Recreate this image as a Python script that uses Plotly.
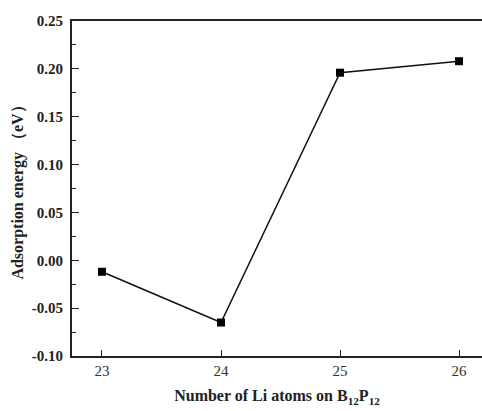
import plotly.graph_objects as go

li_atoms = [23, 24, 25, 26]
adsorption_energy = [-0.012, -0.065, 0.196, 0.208]
y_ticks = [-0.10, -0.05, 0.00, 0.05, 0.10, 0.15, 0.20, 0.25]
y_tick_labels = ["-0.10", "-0.05", "0.00", "0.05", "0.10", "0.15", "0.20", "0.25"]
x_ticks = [23, 24, 25, 26]

fig = go.Figure()
fig.add_trace(go.Scatter(
    x=li_atoms, y=adsorption_energy, mode="lines+markers",
    line=dict(color="#111111", width=1.5),
    marker=dict(symbol="square", size=8, color="#000000"),
    showlegend=False,
))

serif = "Liberation Serif, Times New Roman, serif"
fig.update_layout(
    width=482, height=411,
    margin=dict(l=72, r=0, t=21, b=55),
    paper_bgcolor="white", plot_bgcolor="white",
    font=dict(family=serif, color="#222222"),
)
fig.update_xaxes(
    range=[22.748, 26.193],
    tickvals=x_ticks, ticktext=[str(v) for v in x_ticks],
    ticks="inside", ticklen=6, tickwidth=1, tickcolor="#222222",
    showline=True, linecolor="#222222", linewidth=2, mirror=True,
    showgrid=False, zeroline=False,
    tickfont=dict(family=serif, size=15, color="#333333"),
    title=dict(text="<b>Number of Li atoms on B<sub>12</sub>P<sub>12</sub></b>",
               font=dict(family=serif, size=16, color="#222222"), standoff=12),
)
fig.update_yaxes(
    range=[-0.10, 0.25],
    tickvals=y_ticks, ticktext=["<b>%s</b>" % t for t in y_tick_labels],
    ticks="inside", ticklen=7, tickwidth=1, tickcolor="#222222",
    minor=dict(ticks="inside", ticklen=4, tickwidth=1, tickcolor="#222222", dtick=0.025, tick0=0),
    showline=True, linecolor="#222222", linewidth=2, mirror=False,
    showgrid=False, zeroline=False,
    ticklabelstandoff=4,
    tickfont=dict(family=serif, size=15, color="#222222"),
    title=dict(text="<b>Adsorption energy （eV）</b>",
               font=dict(family=serif, size=16, color="#222222"), standoff=4),
)

fig.write_html("out.html")
